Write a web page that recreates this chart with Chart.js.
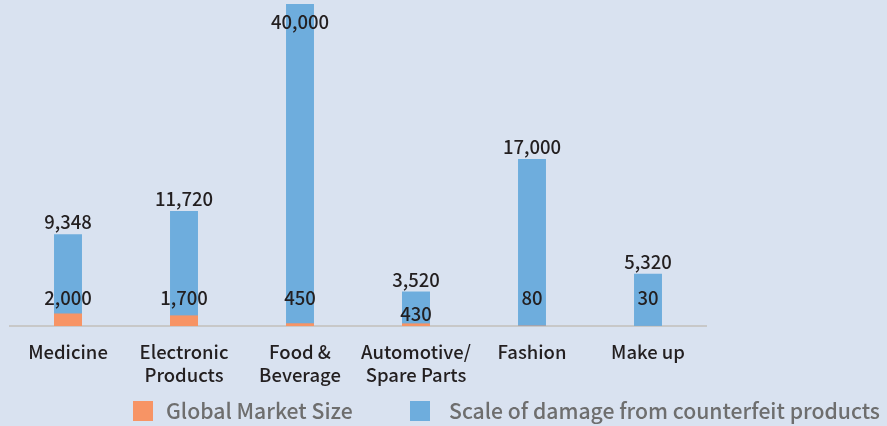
<!DOCTYPE html>
<html>
<head>
<meta charset="utf-8">
<script src="https://cdn.jsdelivr.net/npm/chart.js@4"></script>
<style>
  html, body { margin: 0; padding: 0; background: #d9e2f0; }
  #wrap { width: 887px; height: 426px; position: relative; }
</style>
</head>
<body>
<div id="wrap"><canvas id="counterfeitChart"></canvas></div>
<script>
const categories = ['Medicine', ['Electronic', 'Products'], ['Food &', 'Beverage'], ['Automotive/', 'Spare Parts'], 'Fashion', 'Make up'];
const marketSize = [2000, 1700, 450, 430, 80, 30];
const damageScale = [9348, 11720, 40000, 3520, 17000, 5320];
const seriesNames = ['Global Market Size', 'Scale of damage from counterfeit products'];

const FONT = '"Noto Sans CJK KR", "Noto Sans", sans-serif';
const ORANGE = '#f79465';
const BLUE = '#6eaddd';

const fmt = v => v.toLocaleString('en-US');

// value labels: blue above the bar (inside when clipped), orange on a fixed line above the axis
const valueLabels = {
  id: 'valueLabels',
  afterDatasetsDraw(chart) {
    const ctx = chart.ctx;
    const area = chart.chartArea;
    const orange = chart.getDatasetMeta(0);
    const blue = chart.getDatasetMeta(1);
    ctx.save();
    ctx.font = '500 18.5px ' + FONT;
    ctx.fillStyle = '#231f20';
    ctx.textAlign = 'center';
    ctx.textBaseline = 'middle';
    blue.data.forEach((bar, i) => {
      const y = bar.y < area.top ? area.top + 18 : bar.y - 12;
      ctx.fillText(fmt(damageScale[i]), bar.x, y);
      let oy = area.bottom - 28;
      if (y > oy - 22) oy = area.bottom - 12;
      ctx.fillText(fmt(marketSize[i]), orange.data[i].x, oy);
    });
    ctx.restore();
  }
};

// legend drawn along the bottom edge
const bottomLegend = {
  id: 'bottomLegend',
  afterDraw(chart) {
    const ctx = chart.ctx;
    const items = [{ x: 133, tx: 166 }, { x: 410, tx: 449 }];
    ctx.save();
    ctx.font = '500 21.2px ' + FONT;
    ctx.textBaseline = 'middle';
    items.forEach((it, i) => {
      ctx.fillStyle = chart.data.datasets[i].backgroundColor;
      ctx.fillRect(it.x, 401, 20, 20);
      ctx.fillStyle = '#6e6e6e';
      ctx.fillText(seriesNames[i], it.tx, 411);
    });
    ctx.restore();
  }
};

new Chart(document.getElementById('counterfeitChart').getContext('2d'), {
  type: 'bar',
  data: {
    labels: categories,
    datasets: [
      { label: seriesNames[0], data: marketSize, backgroundColor: ORANGE, yAxisID: 'y2', order: 0 },
      { label: seriesNames[1], data: damageScale, backgroundColor: BLUE, yAxisID: 'y', order: 1 }
    ]
  },
  options: {
    responsive: true,
    maintainAspectRatio: false,
    animation: false,
    grouped: false,
    categoryPercentage: 1,
    barPercentage: 0.241,
    layout: { padding: { left: 10, right: 181, top: 4, bottom: 34 } },
    plugins: { legend: { display: false }, tooltip: { enabled: false } },
    scales: {
      x: {
        grid: { display: false },
        border: { color: '#c8c8c8', width: 2 },
        ticks: { color: '#231f20', padding: 6, maxRotation: 0, autoSkip: false,
                 font: { family: FONT, size: 18.5, weight: 500, lineHeight: 1.24 } }
      },
      y: { display: false, min: 0, max: 32770 },
      y2: { display: false, min: 0, max: 51000 }
    }
  },
  plugins: [valueLabels, bottomLegend]
});
</script>
</body>
</html>
